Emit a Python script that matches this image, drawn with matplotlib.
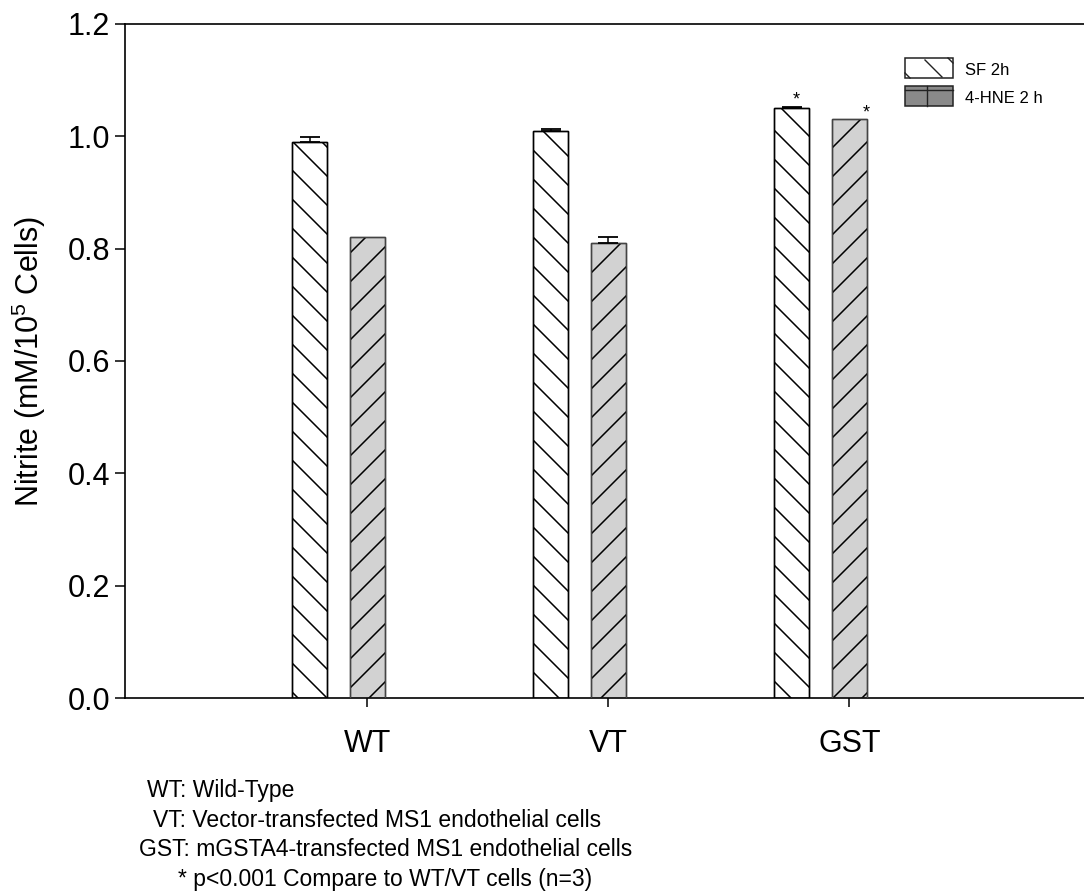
"""
plot.py
=============================
Nitrite bar chart (SF 2h vs 4-HNE 2 h) for WT / VT / GST cells.
"""

import numpy as np
import matplotlib
matplotlib.use('Agg')
import matplotlib.pyplot as plt
from matplotlib.collections import LineCollection
from matplotlib.transforms import IdentityTransform
from matplotlib.patches import Rectangle
from matplotlib.lines import Line2D

# Data
Categories = ['WT', 'VT', 'GST']
SF_Values  = [0.99, 1.01, 1.05]
SF_Err     = [0.008, 0.003, 0.002]
HNE_Values = [0.82, 0.81, 1.03]
HNE_Err    = [0.0, 0.01, 0.0]
SF_Star    = [False, False, True]
HNE_Star   = [False, False, True]
Y_Ticks    = [0.0, 0.2, 0.4, 0.6, 0.8, 1.0, 1.2]
Legend_Labels = ['SF 2h', '4-HNE 2 h']
Footnotes = [
	'WT: Wild-Type',
	'VT: Vector-transfected MS1 endothelial cells',
	'GST: mGSTA4-transfected MS1 endothelial cells',
	'* p<0.001 Compare to WT/VT cells (n=3)',
]

W, H = 1084, 893

def Fig_XY(x, y):
	# image pixel (top origin) -> figure fraction
	return x / W, 1 - y / H

def Add_Hatch(ax, bar, slope, spacing=29, color='black', lw=1.1, zorder=2.5):
	(x0, y0), (x1, y1) = ax.transData.transform([
		[bar.get_x(), bar.get_y()],
		[bar.get_x() + bar.get_width(), bar.get_y() + bar.get_height()]])
	segs = []
	if slope < 0:
		c_min, c_max = x0 + y0, x1 + y1
	else:
		c_min, c_max = y0 - x1, y1 - x0
	for c in np.arange(np.floor(c_min / spacing) * spacing, c_max + spacing, spacing):
		if slope < 0:
			segs.append([(x0 - 5, c - x0 + 5), (x1 + 5, c - x1 - 5)])
		else:
			segs.append([(x0 - 5, c + x0 - 5), (x1 + 5, c + x1 + 5)])
	lc = LineCollection(segs, colors=color, linewidths=lw, transform=IdentityTransform(), zorder=zorder)
	ax.add_collection(lc, autolim=False)
	lc.set_clip_box(None)
	lc.set_clip_path(bar)

def Plot_Bar():

	plt.rcParams['font.family'] = ['Liberation Sans', 'DejaVu Sans']
	plt.rcParams['mathtext.fontset'] = 'custom'
	plt.rcParams['mathtext.rm'] = 'Liberation Sans'
	plt.rcParams['mathtext.default'] = 'regular'

	fig = plt.figure(figsize=(W / 100, H / 100), dpi=100)
	ax = fig.add_axes([125 / W, (H - 698) / H, (1084 - 125) / W, (698 - 24) / H])

	x = np.arange(len(Categories))
	x_sf = x - 0.24
	x_hne = x
	width = 0.145

	ax.set_xlim(-1.006, 2.973)
	ax.set_ylim(0, 1.2)

	# Bars
	sf_bars = ax.bar(x_sf, SF_Values, width, color='white', edgecolor='black', linewidth=1.0, zorder=2)
	hne_bars = ax.bar(x_hne, HNE_Values, width, color='#d2d2d2', edgecolor='#444444', linewidth=1.0, zorder=2)
	for b in sf_bars:
		Add_Hatch(ax, b, -1)
	for b in hne_bars:
		Add_Hatch(ax, b, 1)
	ax.bar(x_sf, SF_Values, width, fill=False, edgecolor='black', linewidth=1.0, zorder=3)
	ax.bar(x_hne, HNE_Values, width, fill=False, edgecolor='#444444', linewidth=1.0, zorder=3)

	# Error bars (upper only)
	for xs, vals, errs in [(x_sf, SF_Values, SF_Err), (x_hne, HNE_Values, HNE_Err)]:
		for xi, v, e in zip(xs, vals, errs):
			if e > 0:
				ax.errorbar(xi, v, yerr=[[0], [e]], fmt='none', ecolor='black',
					elinewidth=1.1, capsize=7.5, capthick=1.3, zorder=4)

	# Significance stars
	for xi, v, e, s in zip(x_sf, SF_Values, SF_Err, SF_Star):
		if s: ax.text(xi + 0.02, v + e + 0.004, '*', ha='center', va='baseline', fontsize=13)
	for xi, v, e, s in zip(x_hne, HNE_Values, HNE_Err, HNE_Star):
		if s: ax.text(xi + 0.07, v + e + 0.004, '*', ha='center', va='baseline', fontsize=13)

	# Axes configuration
	ax.spines['right'].set_visible(False)
	for sp in ['left', 'bottom', 'top']:
		ax.spines[sp].set_linewidth(1.2)
	ax.set_yticks(Y_Ticks)
	ax.set_yticklabels(['{:.1f}'.format(t) for t in Y_Ticks])
	ax.set_xticks(x)
	ax.set_xticklabels(Categories)
	ax.tick_params(axis='y', direction='out', length=7.2, width=1.1, pad=3.6, labelsize=22)
	ax.tick_params(axis='x', direction='out', length=6.5, width=1.1, pad=16, labelsize=22)
	ax.set_ylabel(r'Nitrite (mM/10$^{5}$ Cells)', fontsize=22)
	ax.yaxis.set_label_coords((48 - 125) / (1084 - 125), 0.5)

	# Legend (drawn by hand)
	t = fig.transFigure
	x0, y0 = Fig_XY(905, 78)
	fig.add_artist(Rectangle((x0, y0), 48 / W, 20 / H, facecolor='white', edgecolor='#222222', linewidth=1.1, transform=t))
	for (xa, ya), (xb, yb) in [((925, 60), (942, 77)), ((905, 73), (910, 78)), ((948, 58), (953, 63))]:
		pa, pb = Fig_XY(xa, ya), Fig_XY(xb, yb)
		fig.add_artist(Line2D([pa[0], pb[0]], [pa[1], pb[1]], color='#222222', linewidth=1.0, transform=t))
	x0, y0 = Fig_XY(905, 106)
	fig.add_artist(Rectangle((x0, y0), 48 / W, 20 / H, facecolor='#8a8a8a', edgecolor='#222222', linewidth=1.1, transform=t))
	for (xa, ya), (xb, yb) in [((905, 90), (953, 90)), ((927, 86), (927, 106))]:
		pa, pb = Fig_XY(xa, ya), Fig_XY(xb, yb)
		fig.add_artist(Line2D([pa[0], pb[0]], [pa[1], pb[1]], color='#222222', linewidth=1.0, transform=t))
	for label, yb in zip(Legend_Labels, [75, 103]):
		fig.text(*Fig_XY(965, yb), label, fontsize=12, va='baseline', ha='left')

	# Footnotes
	for line, xl, yb in zip(Footnotes, [147, 153, 139, 178], [797, 827, 856, 886]):
		fig.text(*Fig_XY(xl, yb), line, fontsize=16.5, va='baseline', ha='left')

	plt.savefig('out.png', dpi=100)
	plt.close()

	return

if (__name__ == '__main__'):
	Plot_Bar()
